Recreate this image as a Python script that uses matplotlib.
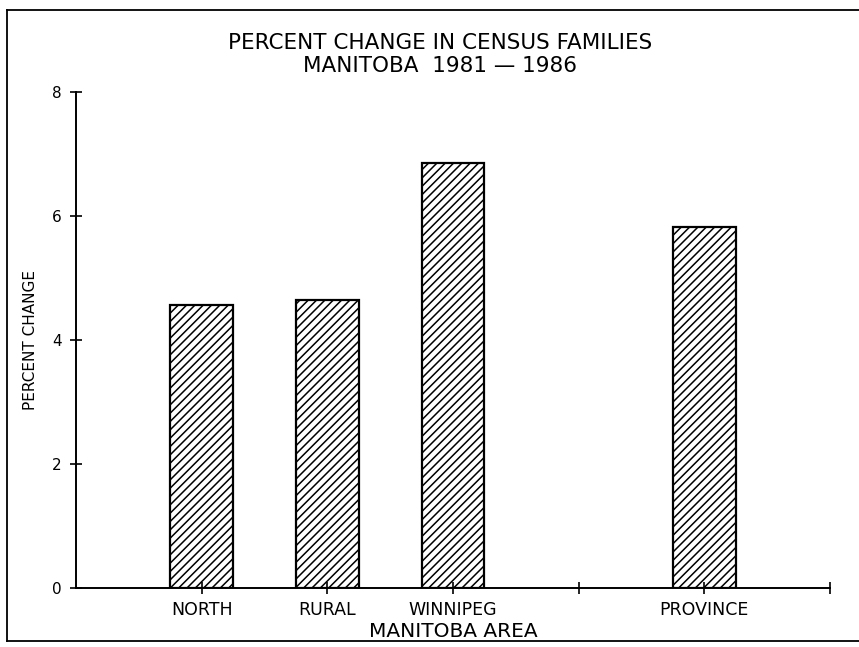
import matplotlib
matplotlib.use('Agg')
import matplotlib.pyplot as plt
from matplotlib.lines import Line2D

# data
areas = ['NORTH', 'RURAL', 'WINNIPEG', 'PROVINCE']
positions = [1, 2, 3, 5]
pct_change = [4.57, 4.65, 6.85, 5.82]
tick_pos = [1, 2, 3, 4, 5, 6]
tick_labels = ['NORTH', 'RURAL', 'WINNIPEG', '', 'PROVINCE', '']
y_ticks = [0, 2, 4, 6, 8]

plt.rcParams['hatch.linewidth'] = 1.1
plt.rcParams['font.family'] = ['DejaVu Sans']

W, H = 859, 647
fig = plt.figure(figsize=(W / 100, H / 100), dpi=100)
fig.patch.set_facecolor('white')
ax = fig.add_axes([76 / W, 1 - 588 / H, (830 - 76) / W, (588 - 92) / H])

ax.bar(positions, pct_change, width=0.5, color='white', edgecolor='black',
       hatch='////', linewidth=1.6)

ax.set_xlim(0, 6)
ax.set_ylim(0, 8)
ax.spines[['top', 'right']].set_visible(False)
ax.spines[['left', 'bottom']].set_linewidth(1.4)

ax.set_yticks(y_ticks)
ax.set_yticklabels([str(v) for v in y_ticks], fontsize=11)
ax.set_xticks(tick_pos)
ax.set_xticklabels(tick_labels, fontsize=12.5)
ax.tick_params(axis='both', direction='inout', length=9, width=1.2, color='black')
ax.tick_params(axis='y', pad=6)
ax.tick_params(axis='x', pad=5)

ax.set_xlabel('MANITOBA AREA', fontsize=14.5, labelpad=2)
ax.set_ylabel('PERCENT CHANGE', fontsize=11,
              family=['Liberation Sans Narrow', 'DejaVu Sans'], labelpad=10)

fig.text(440 / W, 1 - 43 / H, 'PERCENT CHANGE IN CENSUS FAMILIES',
         ha='center', va='center', fontsize=15.5)
fig.text(440 / W, 1 - 66 / H, 'MANITOBA  1981 \u2014 1986',
         ha='center', va='center', fontsize=15.5)

# page frame of the scan
for xs, ys in [([7, W], [H - 10, H - 10]), ([7, 7], [H - 10, H - 641]),
               ([7, W], [H - 641, H - 641])]:
    fig.add_artist(Line2D([x / W for x in xs], [y / H for y in ys],
                          transform=fig.transFigure, color='black', lw=1.3))

fig.savefig('out.png', dpi=100, facecolor='white')
